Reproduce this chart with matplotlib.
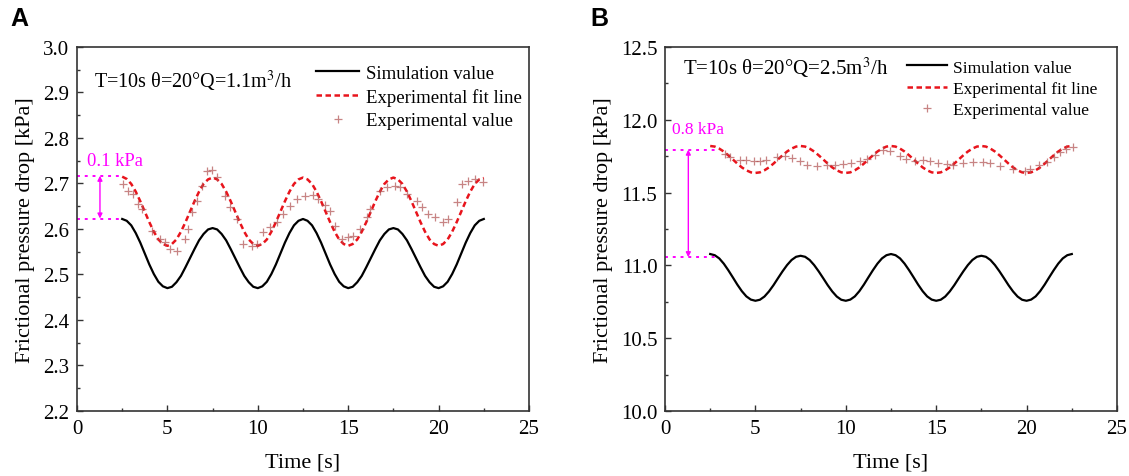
import matplotlib
matplotlib.use('Agg')
import matplotlib.pyplot as plt
import numpy as np
from matplotlib.ticker import MultipleLocator

plt.rcParams['font.family'] = ['Liberation Serif', 'DejaVu Serif']
plt.rcParams['mathtext.fontset'] = 'stix'

# time grid of the two curves (read every 0.25 s)
t_line = np.linspace(2.5, 22.5, 81)

# panel A, Q = 1.1 m3/h
sim_a = [2.622, 2.618, 2.608, 2.591, 2.570, 2.546, 2.522, 2.501, 2.484, 2.474, 2.470,
         2.473, 2.483, 2.497, 2.516, 2.536, 2.556, 2.575, 2.589, 2.599, 2.602,
         2.599, 2.589, 2.575, 2.556, 2.536, 2.516, 2.497, 2.483, 2.473, 2.470,
         2.474, 2.484, 2.501, 2.522, 2.546, 2.570, 2.591, 2.608, 2.618, 2.622,
         2.618, 2.608, 2.591, 2.570, 2.546, 2.522, 2.501, 2.484, 2.474, 2.470,
         2.473, 2.483, 2.497, 2.516, 2.536, 2.556, 2.575, 2.589, 2.599, 2.602,
         2.599, 2.589, 2.575, 2.556, 2.536, 2.516, 2.497, 2.483, 2.473, 2.470,
         2.474, 2.484, 2.501, 2.522, 2.546, 2.570, 2.591, 2.608, 2.618, 2.622]
fit_a = [2.715, 2.710, 2.699, 2.682, 2.661, 2.638, 2.615, 2.594, 2.577, 2.567, 2.563,
         2.567, 2.577, 2.594, 2.615, 2.638, 2.661, 2.682, 2.699, 2.709, 2.713,
         2.709, 2.699, 2.682, 2.661, 2.638, 2.615, 2.594, 2.577, 2.567, 2.563,
         2.567, 2.577, 2.594, 2.615, 2.638, 2.661, 2.682, 2.699, 2.709, 2.713,
         2.709, 2.699, 2.682, 2.661, 2.638, 2.615, 2.594, 2.577, 2.567, 2.563,
         2.567, 2.577, 2.594, 2.615, 2.638, 2.661, 2.682, 2.699, 2.709, 2.713,
         2.709, 2.699, 2.682, 2.661, 2.638, 2.615, 2.594, 2.577, 2.567, 2.563,
         2.567, 2.577, 2.594, 2.615, 2.638, 2.661, 2.682, 2.699, 2.709, 2.712]
exp_a_t = [2.56, 2.84, 3.12, 3.39, 3.58, 4.13, 4.59, 4.87, 5.14, 5.51, 5.97, 6.16,
           6.34, 6.62, 6.90, 7.17, 7.45, 7.73, 8.19, 8.46, 8.83, 9.20, 9.66, 9.94,
           10.30, 10.67, 11.05, 11.41, 11.78, 12.15, 12.61, 13.07, 13.35, 13.72,
           13.99, 14.27, 14.64, 15.01, 15.28, 15.65, 16.02, 16.21, 16.76, 17.13,
           17.59, 17.87, 18.24, 18.79, 19.06, 19.43, 19.80, 20.26, 20.54, 21.00,
           21.28, 21.64, 22.01, 22.47]
exp_a_v = [2.699, 2.684, 2.677, 2.655, 2.644, 2.596, 2.578, 2.571, 2.556, 2.552, 2.578, 2.600,
           2.637, 2.662, 2.695, 2.728, 2.730, 2.714, 2.673, 2.648, 2.622, 2.567, 2.563, 2.567,
           2.593, 2.604, 2.615, 2.633, 2.651, 2.666, 2.673, 2.675, 2.666, 2.653,
           2.640, 2.607, 2.578, 2.582, 2.585, 2.600, 2.626, 2.644, 2.684, 2.692,
           2.695, 2.692, 2.677, 2.662, 2.648, 2.633, 2.626, 2.615, 2.622, 2.659,
           2.699, 2.706, 2.710, 2.703]

# panel B, Q = 2.5 m3/h
sim_b = [11.078, 11.070, 11.048, 11.012, 10.967, 10.918, 10.868, 10.823, 10.787, 10.765, 10.757,
         10.764, 10.786, 10.821, 10.864, 10.912, 10.959, 11.002, 11.037, 11.059, 11.066,
         11.059, 11.037, 11.002, 10.959, 10.912, 10.864, 10.821, 10.786, 10.764, 10.757,
         10.765, 10.787, 10.823, 10.868, 10.918, 10.967, 11.012, 11.048, 11.070, 11.078,
         11.070, 11.048, 11.012, 10.967, 10.918, 10.868, 10.823, 10.787, 10.765, 10.757,
         10.764, 10.786, 10.821, 10.864, 10.912, 10.959, 11.002, 11.037, 11.059, 11.066,
         11.059, 11.037, 11.002, 10.959, 10.912, 10.864, 10.821, 10.786, 10.764, 10.757,
         10.765, 10.787, 10.823, 10.868, 10.918, 10.967, 11.012, 11.048, 11.070, 11.078]
fit_b = [11.820, 11.816, 11.802, 11.782, 11.756, 11.728, 11.699, 11.673, 11.653, 11.639, 11.635,
         11.639, 11.653, 11.673, 11.699, 11.728, 11.756, 11.782, 11.802, 11.816, 11.820,
         11.816, 11.802, 11.782, 11.756, 11.728, 11.699, 11.673, 11.653, 11.639, 11.635,
         11.639, 11.653, 11.673, 11.699, 11.728, 11.756, 11.782, 11.802, 11.816, 11.820,
         11.816, 11.802, 11.782, 11.756, 11.728, 11.699, 11.673, 11.653, 11.639, 11.635,
         11.639, 11.653, 11.673, 11.699, 11.728, 11.756, 11.782, 11.802, 11.816, 11.820,
         11.816, 11.802, 11.782, 11.756, 11.728, 11.699, 11.673, 11.653, 11.639, 11.635,
         11.639, 11.653, 11.673, 11.699, 11.728, 11.756, 11.782, 11.802, 11.816, 11.820]
exp_b_t = [3.32, 3.60, 4.15, 4.50, 4.90, 5.25, 5.60, 6.18, 6.64, 7.05, 7.47, 7.84, 8.39,
           8.94, 9.40, 9.86, 10.30, 10.78, 11.15, 11.60, 12.08, 12.45, 13.00, 13.35,
           13.80, 14.29, 14.66, 15.10, 15.58, 15.95, 16.50, 17.05, 17.60, 17.97, 18.53,
           19.27, 19.91, 20.20, 20.70, 21.11, 21.50, 21.85, 22.20, 22.58]
exp_b_v = [11.765, 11.745, 11.726, 11.726, 11.720, 11.720, 11.726, 11.747, 11.754, 11.735, 11.720, 11.690, 11.685,
           11.690, 11.690, 11.696, 11.700, 11.720, 11.730, 11.760, 11.790, 11.785, 11.754, 11.730,
           11.720, 11.726, 11.720, 11.700, 11.696, 11.690, 11.700, 11.710, 11.710, 11.700, 11.685,
           11.662, 11.650, 11.662, 11.690, 11.710, 11.745, 11.777, 11.800, 11.815]

panels = [
    dict(sim=sim_a, fit=fit_a, et=exp_a_t, ev=exp_a_v, ylim=(2.2, 3.0), major=0.1, minor=0.05,
         hi=2.717, lo=2.623, dash_end=2.47, arrow_t=1.27, gap='0.1 kPa', gap_fs=13.3,
         gap_pos=(0.57, 2.75), cond='T=10s θ=20°Q=1.1m$^3$/h', cond_fs=14.5, cond_pos=(0.94, 2.927),
         leg=(0.529, 0.951), leg_fs=13.5, ls=0.33),
    dict(sim=sim_b, fit=fit_b, et=exp_b_t, ev=exp_b_v, ylim=(10.0, 12.5), major=0.5, minor=0.25,
         hi=11.795, lo=11.056, dash_end=2.77, arrow_t=1.29, gap='0.8 kPa', gap_fs=12.5,
         gap_pos=(0.40, 11.937), cond='T=10s θ=20°Q=2.5m$^3$/h', cond_fs=15, cond_pos=(1.0, 12.363),
         leg=(0.535, 0.966), leg_fs=12.5, ls=0.30),
]

fig = plt.figure(figsize=(11.29, 4.77), dpi=100)
lefts = [77 / 1129, 665 / 1129]
magenta = '#ff00ff'

for p, left in zip(panels, lefts):
    ax = fig.add_axes([left, 0.1363, 452 / 1129, 0.7631])
    ax.plot(t_line, p['sim'], color='black', lw=1.6, label='Simulation value')
    ax.plot(t_line, p['fit'], color='#e8141c', lw=1.8, ls=(0, (2.2, 1.4)), label='Experimental fit line')
    ax.plot(p['et'], p['ev'], ls='none', marker='+', ms=6, mew=0.9, color='#b05050', alpha=0.7,
            label='Experimental value')

    # gap annotation
    ax.plot([0, p['dash_end']], [p['hi'], p['hi']], color=magenta, ls=(0, (1.5, 2.5)), lw=1.4)
    ax.plot([0, p['dash_end']], [p['lo'], p['lo']], color=magenta, ls=(0, (1.5, 2.5)), lw=1.4)
    ax.annotate('', xy=(p['arrow_t'], p['hi']), xytext=(p['arrow_t'], p['lo']),
                arrowprops=dict(arrowstyle='<|-|>', color=magenta, lw=1.0, mutation_scale=7,
                                shrinkA=0, shrinkB=0))
    ax.text(p['gap_pos'][0], p['gap_pos'][1], p['gap'], color=magenta, fontsize=p['gap_fs'], va='center')
    ax.text(p['cond_pos'][0], p['cond_pos'][1], p['cond'], fontsize=p['cond_fs'], va='center')

    ax.set_xlim(0, 25)
    ax.set_ylim(*p['ylim'])
    ax.xaxis.set_major_locator(MultipleLocator(5))
    ax.xaxis.set_minor_locator(MultipleLocator(2.5))
    ax.yaxis.set_major_locator(MultipleLocator(p['major']))
    ax.yaxis.set_minor_locator(MultipleLocator(p['minor']))
    ax.yaxis.set_major_formatter(plt.FormatStrFormatter('%.1f'))
    ax.tick_params(which='both', direction='in', labelsize=15, color='#333333')
    ax.tick_params(axis='x', which='both', pad=5.5)
    ax.tick_params(axis='y', which='both', pad=5.5)
    ax.tick_params(which='major', length=4, width=1)
    ax.tick_params(which='minor', length=2.5, width=1)
    for s in ax.spines.values():
        s.set_color('#333333')
        s.set_linewidth(1.2)
    ax.set_xlabel('Time [s]', fontsize=16, labelpad=11)
    ax.set_ylabel('Frictional pressure drop [kPa]', fontsize=16, labelpad=6)

    ax.legend(loc='upper left', bbox_to_anchor=p['leg'], frameon=False, fontsize=p['leg_fs'],
              handlelength=2.3, handletextpad=0.35, labelspacing=p['ls'], borderpad=0,
              borderaxespad=0)

fig.text(10 / 1129, 0.985, 'A', family=['Liberation Sans'], fontweight='bold', fontsize=18, va='top')
fig.text(590 / 1129, 0.985, 'B', family=['Liberation Sans'], fontweight='bold', fontsize=18, va='top')

fig.savefig('out.png', dpi=100)
